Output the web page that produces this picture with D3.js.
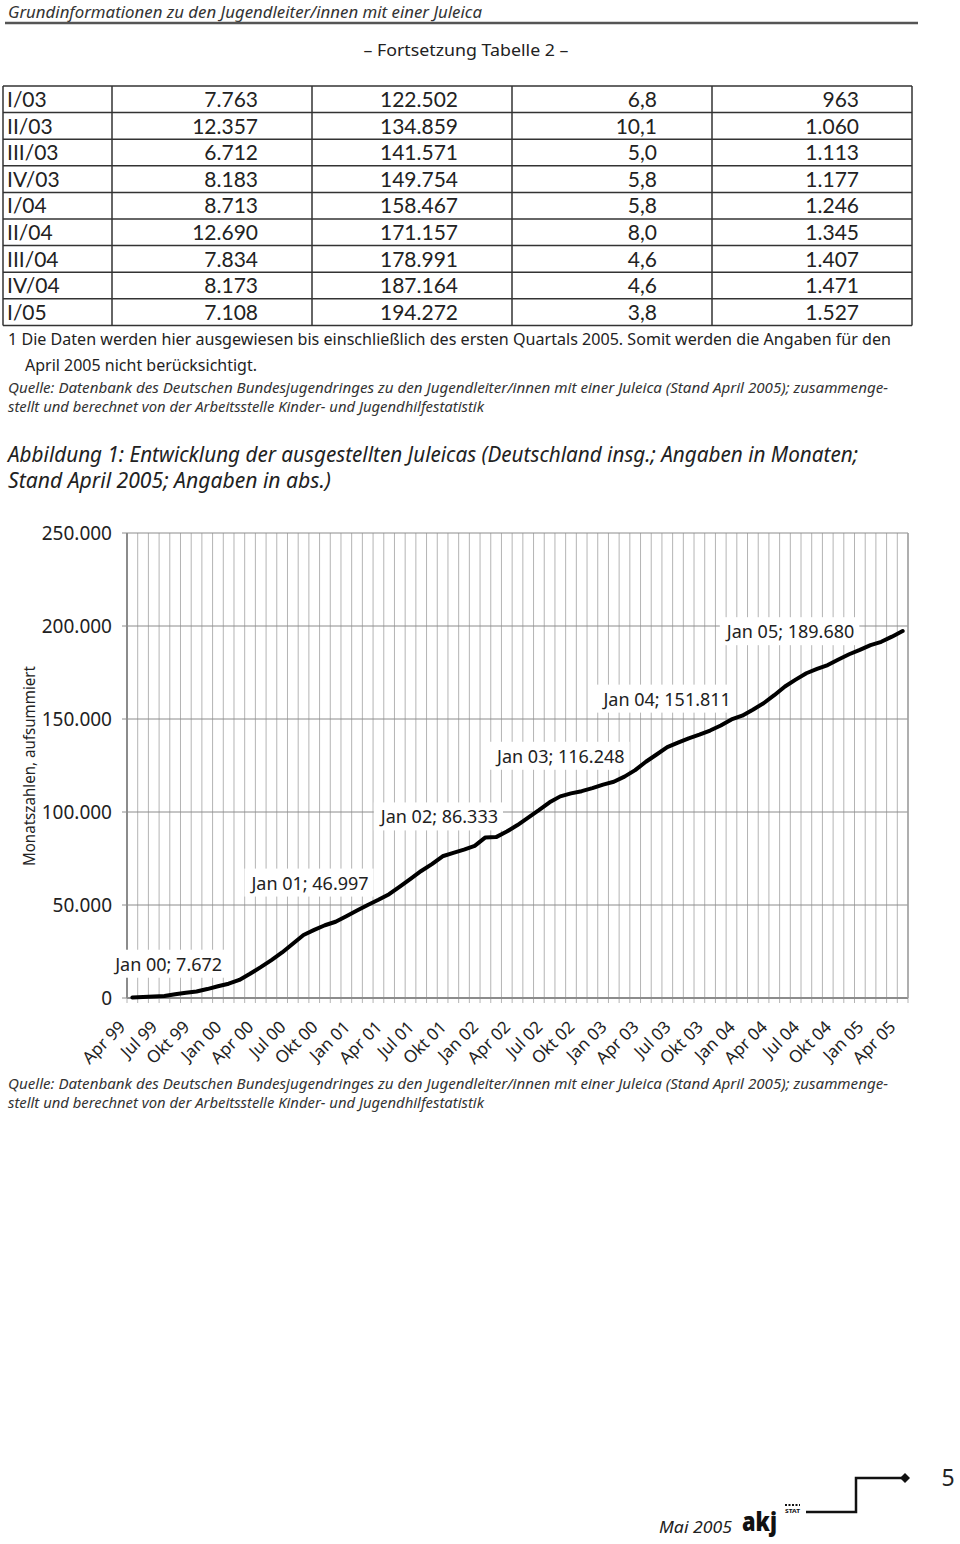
<!DOCTYPE html>
<html>
<head>
<meta charset="utf-8">
<script src="https://cdn.jsdelivr.net/npm/d3@7"></script>
<style>
  body { margin: 0; background: #fff; }
  svg text { font-family: "Noto Sans", sans-serif; fill: #222; }
  svg .tbl text { font-family: Lato, "Noto Sans", sans-serif; }
</style>
</head>
<body>
<div id="canvas"></div>
<script>
// ---------------- table data (Fortsetzung Tabelle 2) ----------------
const quarters = ["I/03", "II/03", "III/03", "IV/03", "I/04", "II/04", "III/04", "IV/04", "I/05"];
const quarterNew = [7763, 12357, 6712, 8183, 8713, 12690, 7834, 8173, 7108];
const quarterTotal = [122502, 134859, 141571, 149754, 158467, 171157, 178991, 187164, 194272];
const quarterRate = [6.8, 10.1, 5.0, 5.8, 5.8, 8.0, 4.6, 4.6, 3.8];
const quarterLast = [963, 1060, 1113, 1177, 1246, 1345, 1407, 1471, 1527];

// ---------------- chart data (Abbildung 1) ----------------
const months = [
  "Apr 99", "Mai 99", "Jun 99", "Jul 99", "Aug 99", "Sep 99", "Okt 99", "Nov 99", "Dez 99",
  "Jan 00", "Feb 00", "Mär 00", "Apr 00", "Mai 00", "Jun 00", "Jul 00", "Aug 00", "Sep 00", "Okt 00", "Nov 00", "Dez 00",
  "Jan 01", "Feb 01", "Mär 01", "Apr 01", "Mai 01", "Jun 01", "Jul 01", "Aug 01", "Sep 01", "Okt 01", "Nov 01", "Dez 01",
  "Jan 02", "Feb 02", "Mär 02", "Apr 02", "Mai 02", "Jun 02", "Jul 02", "Aug 02", "Sep 02", "Okt 02", "Nov 02", "Dez 02",
  "Jan 03", "Feb 03", "Mär 03", "Apr 03", "Mai 03", "Jun 03", "Jul 03", "Aug 03", "Sep 03", "Okt 03", "Nov 03", "Dez 03",
  "Jan 04", "Feb 04", "Mär 04", "Apr 04", "Mai 04", "Jun 04", "Jul 04", "Aug 04", "Sep 04", "Okt 04", "Nov 04", "Dez 04",
  "Jan 05", "Feb 05", "Mär 05", "Apr 05"
];
const cumulative = [
  300, 500, 800, 1100, 2000, 2800, 3500, 4800, 6300,
  7672, 9700, 13000, 16600, 20400, 24500, 29200, 33900, 36600, 39100, 41000, 44000,
  46997, 50000, 52800, 55800, 59900, 64100, 68300, 72000, 76200, 78000, 79800, 81800,
  86333, 86500, 89500, 93000, 97000, 101000, 105200, 108400, 110000, 111200, 112800, 114739,
  116248, 119000, 122502, 127000, 130900, 134859, 137300, 139600, 141571, 143800, 146500, 149754,
  151811, 155000, 158467, 162800, 167500, 171157, 174600, 176900, 178991, 182000, 184800, 187164,
  189680, 191500, 194272, 197300
];
const tickMonths = [
  "Apr 99", "Jul 99", "Okt 99", "Jan 00", "Apr 00", "Jul 00", "Okt 00", "Jan 01", "Apr 01",
  "Jul 01", "Okt 01", "Jan 02", "Apr 02", "Jul 02", "Okt 02", "Jan 03", "Apr 03", "Jul 03",
  "Okt 03", "Jan 04", "Apr 04", "Jul 04", "Okt 04", "Jan 05", "Apr 05"
];
const labelMonths = ["Jan 00", "Jan 01", "Jan 02", "Jan 03", "Jan 04", "Jan 05"];
const yTicks = [0, 50000, 100000, 150000, 200000, 250000];

// label placement relative to its point (layout only)
const labelNudge = {
  "Jan 00": [-60, -13], "Jan 01": [-47, -21], "Jan 02": [-46, -14],
  "Jan 03": [-53, -19], "Jan 04": [-75, -10], "Jan 05": [-80, -7]
};

const de = d3.formatLocale({decimal: ",", thousands: ".", grouping: [3], currency: ["", " €"]});
const fmtInt = de.format(",d");
const fmtDec = de.format(",.1f");

const svg = d3.select("#canvas").append("svg")
  .attr("width", 960)
  .attr("height", 1544);

function txt(x, y, s, o) {
  o = o || {};
  const t = svg.append("text")
    .attr("x", x)
    .attr("y", y)
    .style("font-size", (o.size || 17) + "px")
    .text(s);
  if (o.italic) t.style("font-style", "italic");
  if (o.anchor) t.attr("text-anchor", o.anchor);
  if (o.len) t.attr("textLength", o.len).attr("lengthAdjust", "spacingAndGlyphs");
  if (o.fill) t.style("fill", o.fill);
  if (o.weight) t.style("font-weight", o.weight);
  return t;
}

// ---------------- page header ----------------
txt(8, 18, "Grundinformationen zu den Jugendleiter/innen mit einer Juleica", {size: 17, italic: true, len: 474, fill: "#333"});
svg.append("line")
  .attr("x1", 5).attr("x2", 918).attr("y1", 23).attr("y2", 23)
  .attr("stroke", "#555").attr("stroke-width", 2.5);
txt(466, 56, "– Fortsetzung Tabelle 2 –", {size: 17, anchor: "middle", len: 205});

// ---------------- table ----------------
const tTop = 86, rowH = 26.6;
const colEdges = [3, 112, 312, 512, 712, 912];
const colRight = [258, 458, 657, 859];
const table = svg.append("g").attr("class", "tbl");
const tBottom = tTop + rowH * quarters.length;

quarters.forEach((q, i) => {
  const yb = tTop + rowH * i + 21;
  const row = [fmtInt(quarterNew[i]), fmtInt(quarterTotal[i]), fmtDec(quarterRate[i]), fmtInt(quarterLast[i])];
  table.append("text").attr("x", 7).attr("y", yb).style("font-size", "21px").text(q);
  row.forEach((v, j) => {
    table.append("text")
      .attr("x", colRight[j]).attr("y", yb)
      .attr("text-anchor", "end")
      .style("font-size", "21px")
      .text(v);
  });
});
for (let i = 0; i <= quarters.length; i++) {
  table.append("line")
    .attr("x1", 3).attr("x2", 912)
    .attr("y1", tTop + rowH * i).attr("y2", tTop + rowH * i)
    .attr("stroke", "#333").attr("stroke-width", 1.5);
}
colEdges.forEach(cx => {
  table.append("line")
    .attr("x1", cx).attr("x2", cx)
    .attr("y1", tTop).attr("y2", tBottom)
    .attr("stroke", "#333").attr("stroke-width", 1.5);
});

txt(8, 345, "1 Die Daten werden hier ausgewiesen bis einschließlich des ersten Quartals 2005. Somit werden die Angaben für den", {size: 17, len: 883});
txt(25, 371, "April 2005 nicht berücksichtigt.", {size: 17, len: 232});

const quelle1 = "Quelle: Datenbank des Deutschen Bundesjugendringes zu den Jugendleiter/innen mit einer Juleica (Stand April 2005); zusammenge-";
const quelle2 = "stellt und berechnet von der Arbeitsstelle Kinder- und Jugendhilfestatistik";
txt(8, 393, quelle1, {size: 14, italic: true, len: 880, fill: "#333"});
txt(8, 412, quelle2, {size: 14, italic: true, len: 476, fill: "#333"});

txt(8, 462, "Abbildung 1: Entwicklung der ausgestellten Juleicas (Deutschland insg.; Angaben in Monaten;", {size: 21, italic: true, len: 850});
txt(8, 488, "Stand April 2005; Angaben in abs.)", {size: 21, italic: true, len: 323});

// ---------------- chart ----------------
const pl = 127, pr = 908, pt = 533, pb = 998;
const x = d3.scaleBand().domain(months).range([pl, pr]).padding(0);
const y = d3.scaleLinear().domain([0, 250000]).range([pb, pt]);
const bw = x.bandwidth();
const cx = m => x(m) + bw / 2;

const grid = svg.append("g");
// vertical grid at band edges (with small ticks below the axis)
grid.selectAll("line.v").data(months.concat(["end"])).enter().append("line")
  .attr("class", "v")
  .attr("x1", d => d === "end" ? pr : x(d))
  .attr("x2", d => d === "end" ? pr : x(d))
  .attr("y1", pt).attr("y2", pb + 5)
  .attr("stroke", "#b4b4b4").attr("stroke-width", 1);
// horizontal grid
grid.selectAll("line.h").data(yTicks).enter().append("line")
  .attr("class", "h")
  .attr("x1", pl - 5).attr("x2", pr)
  .attr("y1", d => y(d)).attr("y2", d => y(d))
  .attr("stroke", "#8c8c8c").attr("stroke-width", 1);
// axes lines
grid.append("line").attr("x1", pl).attr("x2", pl).attr("y1", pt).attr("y2", pb)
  .attr("stroke", "#8c8c8c").attr("stroke-width", 2);
grid.append("line").attr("x1", pl).attr("x2", pr).attr("y1", pb).attr("y2", pb)
  .attr("stroke", "#8c8c8c").attr("stroke-width", 2);
grid.append("line").attr("x1", pr).attr("x2", pr).attr("y1", pt).attr("y2", pb)
  .attr("stroke", "#a0a0a0").attr("stroke-width", 1.5);

// y axis labels
const yAxis = svg.append("g")
  .attr("transform", `translate(${pl - 15},0)`)
  .call(d3.axisLeft(y).tickValues(yTicks).tickSize(0).tickPadding(0).tickFormat(d => fmtInt(d)));
yAxis.select(".domain").remove();
yAxis.selectAll("text")
  .style("font-size", "19px")
  .style("font-family", "'Noto Sans', sans-serif")
  .style("fill", "#222");

// x axis labels
const xAxis = svg.append("g")
  .attr("transform", `translate(0,${pb})`)
  .call(d3.axisBottom(x).tickValues(tickMonths).tickSize(0));
xAxis.select(".domain").remove();
xAxis.selectAll("text")
  .attr("x", 0).attr("y", 0).attr("dy", 0)
  .attr("text-anchor", "end")
  .attr("transform", "translate(-6,30) rotate(-45)")
  .style("font-size", "17px")
  .style("font-family", "'Noto Sans', sans-serif")
  .style("fill", "#222");

// y axis title
svg.append("text")
  .attr("transform", "translate(35,766) rotate(-90)")
  .attr("text-anchor", "middle")
  .attr("textLength", 200).attr("lengthAdjust", "spacingAndGlyphs")
  .style("font-size", "16px")
  .text("Monatszahlen, aufsummiert");

// the line
const series = months.map((m, i) => ({m: m, v: cumulative[i]}));
svg.append("path")
  .datum(series)
  .attr("fill", "none")
  .attr("stroke", "#000")
  .attr("stroke-width", 4)
  .attr("stroke-linejoin", "round")
  .attr("stroke-linecap", "round")
  .attr("d", d3.line().x(d => cx(d.m)).y(d => y(d.v)));

// data labels with white boxes
const labels = svg.append("g");
labelMonths.forEach(m => {
  const v = cumulative[months.indexOf(m)];
  const n = labelNudge[m];
  const g = labels.append("g");
  const t = g.append("text")
    .attr("x", cx(m) + n[0])
    .attr("y", y(v) + n[1])
    .attr("text-anchor", "middle")
    .style("font-size", "18px")
    .text(m + "; " + fmtInt(v));
  const b = t.node().getBBox();
  g.insert("rect", "text")
    .attr("x", b.x - 5).attr("y", b.y - 2)
    .attr("width", b.width + 10).attr("height", b.height + 4)
    .attr("fill", "#fff");
});

// bottom source
txt(8, 1089, quelle1, {size: 14, italic: true, len: 880, fill: "#333"});
txt(8, 1108, quelle2, {size: 14, italic: true, len: 476, fill: "#333"});

// ---------------- footer ----------------
svg.append("path")
  .attr("d", "M806,1512 H856 V1478 H905")
  .attr("fill", "none").attr("stroke", "#111").attr("stroke-width", 2.5);
svg.append("path")
  .attr("d", "M905,1473 L910,1478 L905,1483 L900,1478 Z")
  .attr("fill", "#111");
txt(948, 1486, "5", {size: 23, anchor: "middle"});
txt(659, 1533, "Mai 2005", {size: 17, italic: true, len: 73});
txt(742, 1531, "akj", {size: 26, weight: 900, fill: "#111", len: 35});
txt(785, 1513, "STAT", {size: 6, weight: 700, fill: "#111", len: 15});
svg.append("line")
  .attr("x1", 785).attr("x2", 800).attr("y1", 1505).attr("y2", 1505)
  .attr("stroke", "#111").attr("stroke-width", 2).attr("stroke-dasharray", "2,1.5");
</script>
</body>
</html>
